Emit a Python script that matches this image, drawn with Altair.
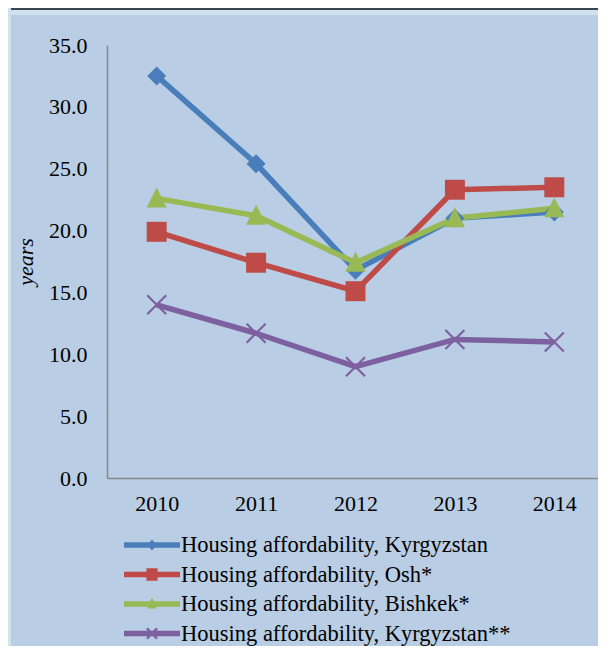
import altair as alt
import pandas as pd

years = ["2010", "2011", "2012", "2013", "2014"]
series = [
    "Housing affordability, Kyrgyzstan",
    "Housing affordability, Osh*",
    "Housing affordability, Bishkek*",
    "Housing affordability, Kyrgyzstan**",
]
kyrgyzstan = [32.5, 25.4, 16.8, 21.0, 21.5]
osh = [19.9, 17.4, 15.1, 23.3, 23.5]
bishkek = [22.6, 21.2, 17.4, 21.0, 21.8]
kyrgyzstan2 = [14.0, 11.7, 9.0, 11.2, 11.0]
y_ticks = [0, 5, 10, 15, 20, 25, 30, 35]
colors = ["#4a7ebb", "#be4b48", "#98b954", "#7d60a0"]

rows = []
for name, vals in zip(series, [kyrgyzstan, osh, bishkek, kyrgyzstan2]):
    for yr, v in zip(years, vals):
        rows.append({"year": yr, "value": v, "series": name})
df = pd.DataFrame(rows)

# plot markers (filled paths)
marker_paths = [
    "M0,-1L1,0L0,1L-1,0Z",
    "M-1.05,-1.05H1.05V1.05H-1.05Z",
    "M0,-1.15L1.05,0.95H-1.05Z",
    "M-0.92,-1.08L1.08,0.92L0.92,1.08L-1.08,-0.92Z"
    "M1.08,-0.92L-0.92,1.08L-1.08,0.92L0.92,-1.08Z",
]
# legend symbols: line + marker
LINE = "M-1,-0.1H1V0.1H-1Z"
legend_paths = [
    LINE + "M0,-0.2L0.17,0L0,0.2L-0.17,0Z",
    LINE + "M-0.2,-0.22H0.2V0.22H-0.2Z",
    LINE + "M0,-0.24L0.17,0.16H-0.17Z",
    LINE + "M-0.15,-0.21L0.21,0.15L0.15,0.21L-0.21,-0.15Z"
    "M0.21,-0.15L-0.15,0.21L-0.21,0.15L0.15,-0.21Z",
]

FONT = "Liberation Serif, Times New Roman, serif"
W, H = 497, 433
PAD_L, PAD_T = 99, 37
TOTAL_W, TOTAL_H = 590, 638

x_enc = alt.X(
    "year:O",
    sort=years,
    scale=alt.Scale(domain=years, padding=0.5),
    axis=alt.Axis(
        title=None, labelAngle=0, labelFont=FONT, labelFontSize=22,
        labelColor="black", labelPadding=15, ticks=False,
        domainColor="#888888", domainWidth=1.5, grid=False, zindex=1,
    ),
)
y_enc = alt.Y(
    "value:Q",
    scale=alt.Scale(domain=[0, 35], nice=False),
    axis=alt.Axis(
        values=y_ticks, format=".1f", title="years", titleFont=FONT,
        titleFontSize=22, titleFontStyle="italic", titleFontWeight="normal",
        titleColor="black", titleX=-70, titleY=216.5, titleAngle=-90,
        titleBaseline="bottom", labelFont=FONT, labelFontSize=22,
        labelColor="black", labelPadding=20, ticks=False, grid=False,
        domainColor="#888888", domainWidth=1.5, zindex=1,
    ),
)

color_scale = alt.Scale(domain=series, range=colors)

bg = alt.Chart(pd.DataFrame({"a": [0]})).mark_rect(color="#b9cde4").encode(
    x=alt.value(-96), x2=alt.value(TOTAL_W - PAD_L + 20),
    y=alt.value(-30), y2=alt.value(TOTAL_H - PAD_T + 20),
)
topline = alt.Chart(pd.DataFrame({"a": [0]})).mark_rule(
    color="#3b4650", strokeWidth=2
).encode(x=alt.value(-96), x2=alt.value(TOTAL_W - PAD_L + 20), y=alt.value(-36))

base = alt.Chart(df)

lines = base.mark_line(strokeWidth=5.5).encode(
    x=x_enc, y=y_enc,
    color=alt.Color("series:N", scale=color_scale, legend=None),
    detail="series:N",
)

points = base.mark_point(filled=True, size=361, opacity=1).encode(
    x=x_enc, y=y_enc,
    color=alt.Color("series:N", scale=color_scale, legend=None),
    shape=alt.Shape("series:N", scale=alt.Scale(domain=series, range=marker_paths), legend=None),
)

leg = alt.Legend(
    title=None, orient="none", legendX=17, legendY=485.5, padding=0,
    symbolSize=3136, symbolStrokeWidth=0, clipHeight=29, rowPadding=0.5,
    labelOffset=1, labelFont=FONT, labelFontSize=22.5, labelColor="black",
    labelLimit=600, zindex=1,
)
legend_layer = base.mark_point(filled=True, size=3136, opacity=1).encode(
    x=alt.value(-3000), y=alt.value(-3000),
    color=alt.Color("series:N", scale=color_scale, title=None, legend=leg),
    shape=alt.Shape("series:N", scale=alt.Scale(domain=series, range=legend_paths), title=None, legend=leg),
)

chart = alt.layer(bg, topline, lines, points, legend_layer).resolve_scale(
    color="independent", shape="independent"
).properties(
    width=W, height=H,
    background="#d0e2ee",
    padding={"left": PAD_L, "top": PAD_T, "right": TOTAL_W - PAD_L - W, "bottom": TOTAL_H - PAD_T - H},
    autosize=alt.AutoSizeParams(type="none"),
).configure_view(stroke=None)

chart.save("out.html", embed_options={"renderer": "svg", "actions": False})
